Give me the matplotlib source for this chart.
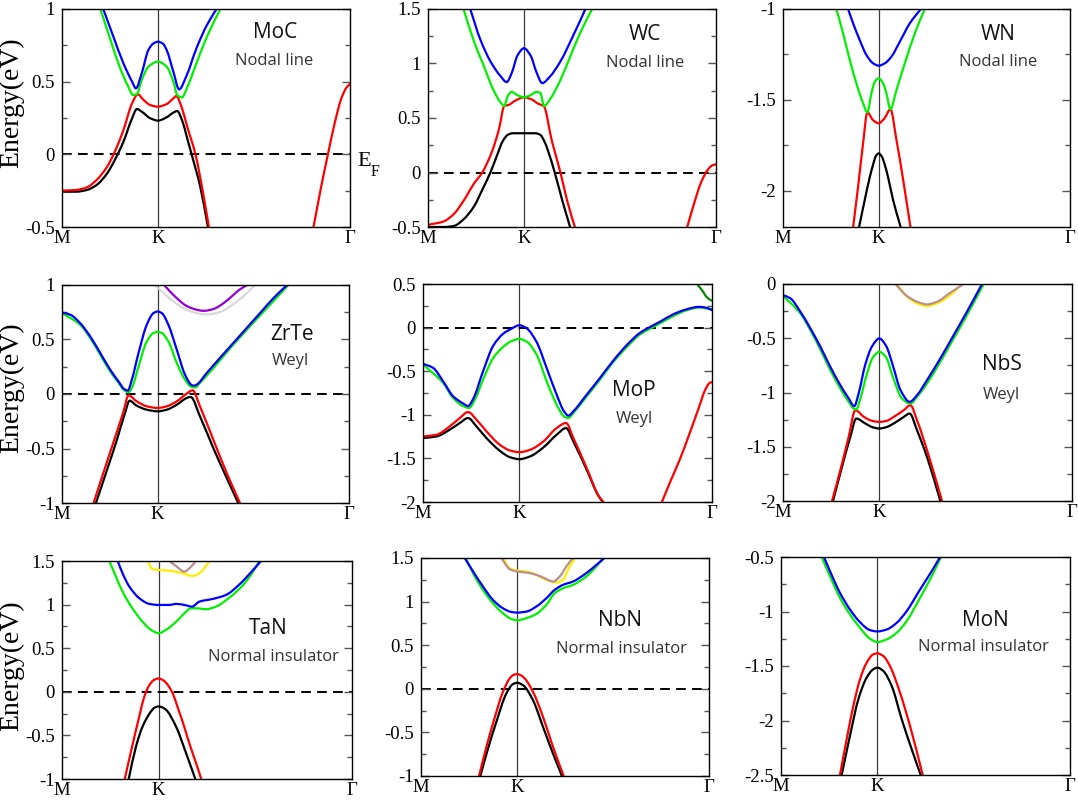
import matplotlib
matplotlib.use("Agg")
import matplotlib.pyplot as plt
from matplotlib.ticker import MultipleLocator, FormatStrFormatter
from matplotlib.path import Path
from matplotlib.patches import PathPatch

plt.rcParams['axes.unicode_minus'] = False

# ---------------- k-path (M=0, K=1, Gamma=3) ----------------
k_tick_pos = [0, 1, 3]
k_tick_labels = ['M', 'K', 'Γ']

materials = ['MoC', 'WC', 'WN', 'ZrTe', 'MoP', 'NbS', 'TaN', 'NbN', 'MoN']
phases = ['Nodal line', 'Nodal line', 'Nodal line', 'Weyl', 'Weyl', 'Weyl',
          'Normal insulator', 'Normal insulator', 'Normal insulator']
y_ranges = [(-0.5, 1.0), (-0.5, 1.5), (-2.2, -1.0),
            (-1.0, 1.0), (-2.0, 0.5), (-2.0, 0.0),
            (-1.0, 1.5), (-1.0, 1.5), (-2.5, -0.5)]

# ---------------- MoC ----------------
moc_black_k = [0, 0.15, 0.26, 0.36, 0.47, 0.55, 0.64, 0.73, 0.78, 0.83, 0.92, 1.0, 1.09, 1.16, 1.20, 1.25, 1.30, 1.35, 1.44, 1.52]
moc_black_E = [-0.257, -0.257, -0.245, -0.211, -0.131, -0.039, 0.087, 0.248, 0.312, 0.294, 0.248, 0.232, 0.255, 0.287, 0.298, 0.236, 0.12, 0.0, -0.222, -0.5]
moc_red_k = [0, 0.15, 0.26, 0.36, 0.47, 0.55, 0.64, 0.73, 0.79, 0.85, 0.92, 1.0, 1.09, 1.16, 1.19, 1.25, 1.30, 1.39, 1.47, 1.53]
moc_red_E = [-0.25, -0.245, -0.227, -0.177, -0.085, 0.018, 0.167, 0.351, 0.413, 0.374, 0.339, 0.328, 0.346, 0.385, 0.401, 0.317, 0.20, 0.0, -0.268, -0.5]
moc_red2_k = [2.62, 2.70, 2.77, 2.84, 2.91, 2.965, 3.0]
moc_red2_E = [-0.5, -0.222, 0.0, 0.213, 0.385, 0.461, 0.484]
moc_green_k = [0.40, 0.50, 0.60, 0.69, 0.74, 0.78, 0.83, 0.90, 1.0, 1.09, 1.16, 1.20, 1.25, 1.30, 1.40, 1.51, 1.65]
moc_green_E = [1.0, 0.798, 0.603, 0.466, 0.408, 0.415, 0.511, 0.603, 0.638, 0.603, 0.50, 0.408, 0.392, 0.454, 0.626, 0.81, 1.0]
moc_blue_k = [0.43, 0.535, 0.64, 0.73, 0.77, 0.83, 0.90, 0.95, 1.0, 1.05, 1.09, 1.16, 1.22, 1.30, 1.40, 1.51, 1.61]
moc_blue_E = [1.0, 0.81, 0.626, 0.50, 0.454, 0.557, 0.718, 0.762, 0.775, 0.762, 0.718, 0.569, 0.447, 0.546, 0.729, 0.89, 1.0]

# ---------------- WC ----------------
wc_black_k = [0, 0.16, 0.27, 0.37, 0.48, 0.57, 0.65, 0.72, 0.78, 0.83, 0.88, 1.0, 1.12, 1.17, 1.21, 1.25, 1.32, 1.40, 1.48]
wc_black_E = [-0.50, -0.50, -0.49, -0.43, -0.31, -0.15, 0.0, 0.16, 0.29, 0.345, 0.36, 0.36, 0.36, 0.345, 0.29, 0.20, 0.0, -0.26, -0.5]
wc_red_k = [0, 0.16, 0.27, 0.37, 0.48, 0.565, 0.67, 0.74, 0.795, 0.84, 0.91, 1.0, 1.08, 1.15, 1.205, 1.29, 1.38, 1.45, 1.53]
wc_red_E = [-0.48, -0.45, -0.38, -0.26, -0.10, 0.0, 0.20, 0.40, 0.61, 0.62, 0.66, 0.69, 0.67, 0.63, 0.61, 0.29, 0.0, -0.26, -0.5]
wc_red2_k = [2.70, 2.77, 2.84, 2.91, 2.96, 3.0]
wc_red2_E = [-0.5, -0.29, -0.10, 0.02, 0.065, 0.075]
wc_green_k = [0.37, 0.48, 0.58, 0.68, 0.75, 0.795, 0.83, 0.87, 0.93, 1.0, 1.07, 1.13, 1.17, 1.21, 1.27, 1.38, 1.48, 1.59, 1.71]
wc_green_E = [1.5, 1.2, 0.98, 0.76, 0.65, 0.61, 0.70, 0.74, 0.71, 0.69, 0.71, 0.74, 0.73, 0.61, 0.67, 0.85, 1.06, 1.29, 1.5]
wc_blue_k = [0.44, 0.545, 0.65, 0.75, 0.82, 0.875, 0.93, 1.0, 1.07, 1.13, 1.19, 1.27, 1.38, 1.52, 1.64]
wc_blue_E = [1.5, 1.22, 1.02, 0.89, 0.83, 0.92, 1.07, 1.14, 1.07, 0.92, 0.82, 0.88, 1.02, 1.27, 1.5]

# ---------------- WN ----------------
wn_black_k = [0.795, 0.855, 0.905, 0.94, 0.97, 1.0, 1.03, 1.06, 1.10, 1.15, 1.23]
wn_black_E = [-2.2, -2.05, -1.93, -1.86, -1.81, -1.795, -1.81, -1.85, -1.93, -2.05, -2.2]
wn_red_k = [0.733, 0.785, 0.837, 0.882, 0.94, 1.0, 1.06, 1.123, 1.186, 1.256, 1.332]
wn_red_E = [-2.2, -1.978, -1.739, -1.569, -1.611, -1.629, -1.602, -1.552, -1.721, -1.941, -2.2]
wn_green_k = [0.558, 0.628, 0.698, 0.767, 0.837, 0.882, 0.924, 0.96, 1.0, 1.046, 1.081, 1.123, 1.186, 1.273, 1.378, 1.482]
wn_green_E = [-1.0, -1.134, -1.281, -1.409, -1.519, -1.569, -1.464, -1.40, -1.382, -1.409, -1.464, -1.552, -1.446, -1.299, -1.134, -1.0]
wn_blue_k = [0.68, 0.733, 0.802, 0.872, 0.942, 1.0, 1.064, 1.134, 1.221, 1.325, 1.441]
wn_blue_E = [-1.0, -1.079, -1.171, -1.253, -1.299, -1.312, -1.299, -1.262, -1.18, -1.079, -1.0]

# ---------------- ZrTe ----------------
zrte_blue_k = [0, 0.087, 0.19, 0.295, 0.40, 0.504, 0.59, 0.65, 0.688, 0.73, 0.80, 0.886, 0.956, 1.0, 1.043, 1.112, 1.20, 1.286, 1.356, 1.38, 1.408, 1.512, 1.65, 1.79, 1.93, 2.07, 2.21, 2.353]
zrte_blue_E = [0.748, 0.727, 0.65, 0.528, 0.376, 0.223, 0.116, 0.046, 0.031, 0.131, 0.376, 0.635, 0.742, 0.757, 0.742, 0.635, 0.406, 0.177, 0.082, 0.076, 0.086, 0.192, 0.33, 0.467, 0.605, 0.742, 0.879, 1.0]
zrte_green_k = [0, 0.19, 0.295, 0.40, 0.504, 0.59, 0.65, 0.695, 0.737, 0.80, 0.886, 0.956, 1.0, 1.043, 1.112, 1.20, 1.286, 1.356, 1.39, 1.45, 1.512, 1.79, 2.07, 2.367]
zrte_green_E = [0.742, 0.635, 0.513, 0.36, 0.207, 0.104, 0.034, 0.015, 0.07, 0.253, 0.482, 0.559, 0.571, 0.559, 0.482, 0.284, 0.131, 0.064, 0.06, 0.11, 0.168, 0.452, 0.72, 1.0]
zrte_red_k = [0.33, 0.434, 0.539, 0.643, 0.695, 0.78, 0.886, 1.0, 1.095, 1.20, 1.303, 1.366, 1.442, 1.581, 1.721, 1.86]
zrte_red_E = [-1.0, -0.72, -0.44, -0.16, -0.012, -0.067, -0.113, -0.128, -0.113, -0.067, 0.003, 0.034, -0.113, -0.418, -0.724, -1.0]
zrte_black_k = [0.355, 0.469, 0.574, 0.66, 0.706, 0.78, 0.886, 1.0, 1.095, 1.20, 1.303, 1.345, 1.442, 1.581, 1.721, 1.842]
zrte_black_E = [-1.0, -0.70, -0.42, -0.17, -0.061, -0.107, -0.144, -0.159, -0.144, -0.098, -0.037, -0.027, -0.205, -0.495, -0.769, -1.0]
zrte_grey_k = [0.963, 1.06, 1.164, 1.303, 1.442, 1.512, 1.651, 1.79, 1.912, 2.016]
zrte_grey_E = [1.0, 0.93, 0.849, 0.773, 0.736, 0.73, 0.751, 0.824, 0.908, 1.0]
zrte_purple_k = [1.067, 1.13, 1.20, 1.30, 1.41, 1.48, 1.58, 1.69, 1.79, 1.86, 1.936]
zrte_purple_E = [1.0, 0.94, 0.879, 0.809, 0.773, 0.763, 0.779, 0.834, 0.908, 0.96, 1.0]

# ---------------- MoP ----------------
mop_blue_k = [0, 0.104, 0.208, 0.312, 0.416, 0.468, 0.52, 0.624, 0.728, 0.833, 0.919, 1.0, 1.075, 1.179, 1.283, 1.387, 1.464, 1.509, 1.561, 1.70, 1.838, 1.977, 2.116, 2.255, 2.359, 2.463, 2.601, 2.74, 2.862, 2.931, 3.0]
mop_blue_E = [-0.415, -0.461, -0.614, -0.787, -0.87, -0.90, -0.82, -0.499, -0.21, -0.07, -0.012, 0.027, -0.008, -0.165, -0.461, -0.768, -0.96, -1.01, -0.96, -0.768, -0.576, -0.376, -0.2, -0.058, 0.008, 0.069, 0.154, 0.211, 0.238, 0.23, 0.2]
mop_green_k = [0, 0.208, 0.312, 0.416, 0.479, 0.538, 0.624, 0.728, 0.833, 0.919, 1.0, 1.075, 1.179, 1.283, 1.387, 1.464, 1.509, 1.561, 1.70, 1.838, 1.977, 2.116, 2.255, 2.359, 2.463, 2.601, 2.74, 2.862, 3.0]
mop_green_E = [-0.422, -0.634, -0.806, -0.90, -0.922, -0.826, -0.595, -0.35, -0.22, -0.155, -0.13, -0.16, -0.31, -0.614, -0.883, -1.018, -1.037, -0.979, -0.787, -0.595, -0.392, -0.223, -0.077, -0.012, 0.05, 0.134, 0.2, 0.23, 0.211]
mop_red_k = [0, 0.139, 0.277, 0.382, 0.468, 0.555, 0.659, 0.798, 0.902, 1.0, 1.11, 1.249, 1.387, 1.485, 1.561, 1.70, 1.821, 1.873]
mop_red_E = [-1.248, -1.229, -1.133, -1.037, -0.968, -1.056, -1.19, -1.344, -1.409, -1.429, -1.402, -1.306, -1.152, -1.094, -1.267, -1.613, -1.928, -2.0]
mop_red2_k = [2.48, 2.567, 2.671, 2.775, 2.862, 2.931, 2.976, 3.0]
mop_red2_E = [-2.0, -1.767, -1.498, -1.19, -0.922, -0.71, -0.634, -0.626]
mop_black_k = [0, 0.139, 0.277, 0.382, 0.468, 0.555, 0.659, 0.798, 0.902, 1.0, 1.11, 1.249, 1.387, 1.485, 1.561, 1.70, 1.821, 1.866]
mop_black_E = [-1.267, -1.248, -1.171, -1.094, -1.037, -1.133, -1.267, -1.413, -1.486, -1.509, -1.478, -1.375, -1.229, -1.152, -1.306, -1.632, -1.928, -2.0]
mop_dkgreen_k = [2.844, 2.896, 2.948, 3.0]
mop_dkgreen_E = [0.5, 0.43, 0.346, 0.307]

# ---------------- NbS ----------------
nbs_blue_k = [0, 0.076, 0.18, 0.284, 0.388, 0.491, 0.595, 0.682, 0.74, 0.785, 0.855, 0.924, 1.0, 1.07, 1.14, 1.22, 1.315, 1.391, 1.495, 1.633, 1.772, 1.91, 2.066]
nbs_blue_E = [-0.102, -0.132, -0.255, -0.409, -0.578, -0.763, -0.932, -1.055, -1.126, -1.009, -0.74, -0.575, -0.502, -0.57, -0.75, -0.978, -1.086, -1.025, -0.886, -0.686, -0.471, -0.255, 0.0]
nbs_green_k = [0, 0.18, 0.284, 0.388, 0.491, 0.595, 0.682, 0.734, 0.761, 0.803, 0.872, 0.934, 1.0, 1.07, 1.14, 1.235, 1.322, 1.391, 1.495, 1.633, 1.772, 1.91, 2.083]
nbs_green_E = [-0.108, -0.271, -0.425, -0.603, -0.794, -0.963, -1.086, -1.148, -1.157, -1.055, -0.825, -0.675, -0.625, -0.675, -0.855, -1.055, -1.102, -1.04, -0.917, -0.717, -0.502, -0.286, 0.0]
nbs_red_k = [0.509, 0.595, 0.682, 0.751, 0.84, 0.92, 1.0, 1.08, 1.149, 1.253, 1.322, 1.391, 1.495, 1.651]
nbs_red_E = [-2.0, -1.717, -1.409, -1.163, -1.225, -1.26, -1.271, -1.26, -1.225, -1.163, -1.117, -1.255, -1.532, -2.0]
nbs_black_k = [0.519, 0.612, 0.699, 0.761, 0.855, 0.93, 1.0, 1.07, 1.149, 1.253, 1.315, 1.391, 1.495, 1.633]
nbs_black_E = [-2.0, -1.686, -1.409, -1.24, -1.286, -1.32, -1.332, -1.32, -1.286, -1.225, -1.194, -1.348, -1.594, -2.0]
nbs_yellow_k = [1.183, 1.287, 1.391, 1.495, 1.599, 1.737, 1.858]
nbs_yellow_E = [0.0, -0.117, -0.178, -0.203, -0.178, -0.102, 0.0]
nbs_brown_k = [1.166, 1.287, 1.391, 1.495, 1.599, 1.737, 1.875]
nbs_brown_E = [0.0, -0.111, -0.163, -0.188, -0.163, -0.08, 0.0]

# ---------------- TaN ----------------
tan_green_k = [0.49, 0.559, 0.628, 0.731, 0.834, 0.921, 1.0, 1.076, 1.179, 1.266, 1.334, 1.386, 1.49, 1.593, 1.731, 1.869, 1.972, 2.041]
tan_green_E = [1.5, 1.317, 1.145, 0.954, 0.802, 0.71, 0.672, 0.71, 0.802, 0.9, 0.958, 0.958, 0.947, 0.977, 1.08, 1.22, 1.37, 1.5]
tan_blue_k = [0.576, 0.628, 0.697, 0.80, 0.903, 1.0, 1.11, 1.179, 1.266, 1.345, 1.421, 1.559, 1.697, 1.834, 1.955, 2.059]
tan_blue_E = [1.5, 1.355, 1.206, 1.073, 1.008, 0.996, 0.996, 1.008, 0.996, 0.977, 1.034, 1.065, 1.111, 1.23, 1.37, 1.5]
tan_yellow_k = [0.886, 0.938, 1.0, 1.11, 1.248, 1.352, 1.421, 1.49, 1.524]
tan_yellow_E = [1.5, 1.405, 1.397, 1.389, 1.359, 1.328, 1.359, 1.443, 1.5]
tan_brown_k = [1.11, 1.179, 1.266, 1.317, 1.386]
tan_brown_E = [1.5, 1.443, 1.378, 1.416, 1.5]
tan_red_k = [0.645, 0.70, 0.75, 0.80, 0.85, 0.90, 0.95, 1.0, 1.05, 1.10, 1.15, 1.20, 1.25, 1.30, 1.35, 1.40, 1.44]
tan_red_E = [-1.02, -0.75, -0.51, -0.28, -0.06, 0.07, 0.135, 0.153, 0.13, 0.07, -0.03, -0.19, -0.35, -0.53, -0.70, -0.86, -1.0]
tan_black_k = [0.69, 0.766, 0.834, 0.921, 0.96, 1.0, 1.04, 1.076, 1.179, 1.283, 1.379]
tan_black_E = [-1.0, -0.626, -0.397, -0.225, -0.18, -0.168, -0.18, -0.206, -0.397, -0.702, -1.0]

# ---------------- NbN ----------------
nbn_green_k = [0.466, 0.542, 0.646, 0.75, 0.854, 0.941, 1.0, 1.097, 1.201, 1.305, 1.392, 1.479, 1.583, 1.721, 1.826, 1.895]
nbn_green_E = [1.5, 1.326, 1.134, 0.981, 0.866, 0.801, 0.785, 0.81, 0.858, 0.962, 1.096, 1.153, 1.192, 1.287, 1.402, 1.5]
nbn_blue_k = [0.455, 0.542, 0.646, 0.75, 0.854, 0.941, 1.0, 1.097, 1.201, 1.305, 1.392, 1.479, 1.583, 1.721, 1.826, 1.912]
nbn_blue_E = [1.5, 1.347, 1.172, 1.019, 0.923, 0.881, 0.874, 0.885, 0.943, 1.038, 1.134, 1.192, 1.23, 1.326, 1.42, 1.5]
nbn_yellow_k = [0.854, 0.924, 1.0, 1.097, 1.201, 1.305, 1.409, 1.479, 1.548, 1.61]
nbn_yellow_E = [1.5, 1.383, 1.356, 1.345, 1.307, 1.249, 1.218, 1.249, 1.402, 1.5]
nbn_brown_k = [0.837, 0.924, 1.0, 1.097, 1.201, 1.288, 1.375, 1.444, 1.513, 1.583]
nbn_brown_E = [1.5, 1.372, 1.345, 1.333, 1.307, 1.268, 1.23, 1.287, 1.402, 1.5]
nbn_red_k = [0.605, 0.681, 0.75, 0.854, 0.924, 0.962, 1.0, 1.04, 1.08, 1.166, 1.271, 1.375, 1.486]
nbn_red_E = [-1.0, -0.667, -0.398, -0.034, 0.119, 0.158, 0.169, 0.155, 0.119, -0.034, -0.322, -0.667, -1.0]
nbn_black_k = [0.618, 0.698, 0.785, 0.889, 0.958, 1.0, 1.062, 1.166, 1.271, 1.375, 1.468]
nbn_black_E = [-1.0, -0.686, -0.379, -0.054, 0.054, 0.069, 0.042, -0.13, -0.437, -0.743, -1.0]

# ---------------- MoN ----------------
mon_blue_k = [0.446, 0.509, 0.612, 0.716, 0.82, 0.924, 1.0, 1.097, 1.201, 1.304, 1.443, 1.564, 1.651]
mon_blue_E = [-0.5, -0.631, -0.829, -0.982, -1.098, -1.171, -1.183, -1.165, -1.104, -0.997, -0.799, -0.631, -0.5]
mon_green_k = [0.422, 0.509, 0.612, 0.716, 0.82, 0.924, 1.0, 1.097, 1.201, 1.304, 1.443, 1.564, 1.661]
mon_green_E = [-0.5, -0.677, -0.875, -1.027, -1.149, -1.25, -1.28, -1.256, -1.195, -1.088, -0.875, -0.677, -0.5]
mon_red_k = [0.612, 0.682, 0.751, 0.82, 0.889, 0.958, 1.0, 1.062, 1.131, 1.235, 1.339, 1.471]
mon_red_E = [-2.5, -2.171, -1.866, -1.622, -1.47, -1.393, -1.384, -1.409, -1.5, -1.744, -2.049, -2.5]
mon_black_k = [0.63, 0.716, 0.803, 0.889, 0.958, 1.0, 1.062, 1.149, 1.253, 1.356, 1.45]
mon_black_E = [-2.5, -2.14, -1.805, -1.607, -1.53, -1.515, -1.546, -1.683, -1.988, -2.262, -2.5]

# ---------------- colours ----------------
C = {'black': '#000000', 'red': '#ff0000', 'green': '#00f000', 'blue': '#0000ff',
     'grey': '#d8d8d8', 'purple': '#9400d3', 'yellow': '#ffee00', 'brown': '#bc8f8f',
     'dkgreen': '#008b00'}

bands = [
    [('black', moc_black_k, moc_black_E), ('red', moc_red_k, moc_red_E), ('red', moc_red2_k, moc_red2_E),
     ('green', moc_green_k, moc_green_E), ('blue', moc_blue_k, moc_blue_E)],
    [('black', wc_black_k, wc_black_E), ('red', wc_red_k, wc_red_E), ('red', wc_red2_k, wc_red2_E),
     ('green', wc_green_k, wc_green_E), ('blue', wc_blue_k, wc_blue_E)],
    [('black', wn_black_k, wn_black_E), ('red', wn_red_k, wn_red_E),
     ('green', wn_green_k, wn_green_E), ('blue', wn_blue_k, wn_blue_E)],
    [('grey', zrte_grey_k, zrte_grey_E), ('purple', zrte_purple_k, zrte_purple_E),
     ('black', zrte_black_k, zrte_black_E), ('red', zrte_red_k, zrte_red_E),
     ('green', zrte_green_k, zrte_green_E), ('blue', zrte_blue_k, zrte_blue_E)],
    [('black', mop_black_k, mop_black_E), ('red', mop_red_k, mop_red_E), ('red', mop_red2_k, mop_red2_E),
     ('green', mop_green_k, mop_green_E), ('blue', mop_blue_k, mop_blue_E),
     ('dkgreen', mop_dkgreen_k, mop_dkgreen_E)],
    [('black', nbs_black_k, nbs_black_E), ('red', nbs_red_k, nbs_red_E),
     ('green', nbs_green_k, nbs_green_E), ('blue', nbs_blue_k, nbs_blue_E),
     ('yellow', nbs_yellow_k, nbs_yellow_E), ('brown', nbs_brown_k, nbs_brown_E)],
    [('black', tan_black_k, tan_black_E), ('red', tan_red_k, tan_red_E),
     ('green', tan_green_k, tan_green_E), ('blue', tan_blue_k, tan_blue_E),
     ('yellow', tan_yellow_k, tan_yellow_E), ('brown', tan_brown_k, tan_brown_E)],
    [('black', nbn_black_k, nbn_black_E), ('red', nbn_red_k, nbn_red_E),
     ('green', nbn_green_k, nbn_green_E), ('blue', nbn_blue_k, nbn_blue_E),
     ('yellow', nbn_yellow_k, nbn_yellow_E), ('brown', nbn_brown_k, nbn_brown_E)],
    [('black', mon_black_k, mon_black_E), ('red', mon_red_k, mon_red_E),
     ('green', mon_green_k, mon_green_E), ('blue', mon_blue_k, mon_blue_E)],
]


def band_path(xs, ys):
    """Smooth Bezier path through the read points (monotone cubic Hermite segments)."""
    n = len(xs)
    h = [xs[i + 1] - xs[i] for i in range(n - 1)]
    d = [(ys[i + 1] - ys[i]) / h[i] for i in range(n - 1)]
    m = [0.0] * n
    m[0], m[-1] = d[0], d[-1]
    for i in range(1, n - 1):
        if d[i - 1] * d[i] <= 0:
            m[i] = 0.0
        else:
            w1 = 2 * h[i] + h[i - 1]
            w2 = h[i] + 2 * h[i - 1]
            m[i] = (w1 + w2) / (w1 / d[i - 1] + w2 / d[i])
    verts = [(xs[0], ys[0])]
    codes = [Path.MOVETO]
    for i in range(n - 1):
        verts += [(xs[i] + h[i] / 3, ys[i] + m[i] * h[i] / 3),
                  (xs[i + 1] - h[i] / 3, ys[i + 1] - m[i + 1] * h[i] / 3),
                  (xs[i + 1], ys[i + 1])]
        codes += [Path.CURVE4] * 3
    return Path(verts, codes)


# ---------------- layout (pixel boxes: left, top, width, height) ----------------
W, H = 1078, 807
boxes = [(62, 9, 288, 218), (428, 9, 288, 218), (783, 9, 287, 218),
         (62, 285, 287, 218), (423, 284, 289, 218), (783, 284, 289, 217),
         (62, 561, 290, 218), (421, 558, 288, 218), (781, 557, 289, 218)]
name_pos = [(275, 33), (645, 34), (998, 34), (292, 335), (634, 390), (1002, 365),
            (268, 629), (620, 621), (985, 621)]
phase_pos = [(274, 61), (645, 63), (998, 62), (290, 361), (634, 419), (1001, 395),
             (273, 657), (621, 649), (983, 647)]
ylabel_y = [103, 388, 666]

SERIF = 'Liberation Serif'
SANS = 'Open Sans'

fig = plt.figure(figsize=(W / 100, H / 100), dpi=100)
fig.patch.set_facecolor('white')

for i, (l, t, w, h) in enumerate(boxes):
    ax = fig.add_axes([l / W, 1 - (t + h) / H, w / W, h / H])
    ymin, ymax = y_ranges[i]
    ax.set_xlim(0, 3)
    ax.set_ylim(ymin, ymax)
    ax.axvline(1, color='#3a3a3a', lw=0.9, zorder=1)
    if ymin < 0 < ymax:
        ax.axhline(0, color='black', lw=1.4, ls=(0, (5, 3.2)), zorder=1.5)
    for cname, kk, ee in bands[i]:
        ax.add_patch(PathPatch(band_path(kk, ee), facecolor='none', edgecolor=C[cname],
                               lw=1.6, capstyle='round', joinstyle='round', zorder=2))
    ax.yaxis.set_major_locator(MultipleLocator(0.5))
    ax.yaxis.set_minor_locator(MultipleLocator(0.25))
    ax.yaxis.set_major_formatter(FormatStrFormatter('%g'))
    ax.set_xticks(k_tick_pos)
    ax.set_xticklabels(k_tick_labels)
    ax.tick_params(axis='y', which='both', direction='in', left=True, right=True,
                   color='#555555', width=1.0)
    ax.tick_params(axis='y', which='major', length=5.5, pad=5, labelsize=13.5)
    ax.tick_params(axis='y', which='minor', length=3.5)
    ax.tick_params(axis='x', length=0, pad=2, labelsize=13.5)
    for lab in ax.get_xticklabels() + ax.get_yticklabels():
        lab.set_fontfamily(SERIF)
    for s in ax.spines.values():
        s.set_linewidth(1.0)
        s.set_color('black')
    fig.text(name_pos[i][0] / W, 1 - name_pos[i][1] / H, materials[i], fontsize=15,
             family=SANS, ha='center', va='center', color='#111111')
    fig.text(phase_pos[i][0] / W, 1 - phase_pos[i][1] / H, phases[i], fontsize=12,
             family=SANS, ha='center', va='center', color='#333333')

for yc in ylabel_y:
    fig.text(12 / W, 1 - yc / H, 'Energy(eV)', rotation=90, family=SERIF, fontsize=20,
             ha='center', va='center')

fig.text(357 / W, 1 - 161 / H, 'E', family=SERIF, fontsize=16, ha='left', va='center')
fig.text(371 / W, 1 - 172 / H, 'F', family=SERIF, fontsize=11.5, ha='left', va='center')

fig.savefig('out.png', dpi=100, facecolor='white')
